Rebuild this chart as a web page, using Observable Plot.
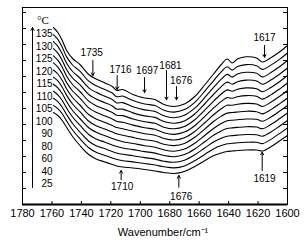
<!DOCTYPE html>
<html>
<head>
<meta charset="utf-8">
<script src="https://cdn.jsdelivr.net/npm/d3@7"></script>
<script src="https://cdn.jsdelivr.net/npm/@observablehq/plot@0.6"></script>
<style>
  html, body { margin: 0; padding: 0; background: #fff; }
  #chart svg { display: block; }
</style>
</head>
<body>
<div id="chart"></div>
<script>
// Wavenumbers (cm-1) at which the spectra were read
const wavenumbers = [1759,1756,1753,1750,1746,1741,1735,1730,1724,1719,1716,1712,1705,1697,1690,1684,1677,1670,1663,1656,1650,1645,1641,1637.5,1634,1628,1621,1617,1611,1605,1600];

// Temperatures (°C), top to bottom
const temperatures = [135,130,125,120,115,110,105,100,90,80,60,40,25];

// Absorbance (a.u., offset stacked) for each temperature
const a135 = [177,172,164,154,146,140,130,125.5,121.5,118,114,115,110,106.5,105,100,98,100.5,108,120,131,140,145.5,141.5,145.5,147.7,146.5,142.5,147,153,159];
const a130 = [169.9,165.1,157.3,147.6,139.5,133.3,123.3,118.8,114.9,111.5,107.8,108.5,103.9,100.5,99,94.3,92.4,94.9,102.2,113.7,124.2,132.6,137.8,134.4,137.9,139.9,138.8,135.1,139.6,145.6,151.5];
const a125 = [162.8,158.2,150.7,141.2,133,126.5,116.7,112.2,108.3,105,101.6,101.9,97.8,94.6,93.1,88.7,86.8,89.3,96.3,107.3,117.3,125.3,130.1,127.4,130.4,132.2,131.2,127.6,132.2,138.2,144];
const a120 = [155.8,151.3,144,134.8,126.5,119.8,110,105.5,101.8,98.5,95.4,95.4,91.6,88.6,87.1,83,81.3,83.6,90.5,101,110.5,117.9,122.4,120.3,122.8,124.4,123.5,120.3,124.8,130.8,136.5];
const a115 = [148.7,144.3,137.3,128.3,120,113,103.3,98.8,95.2,92,89.3,88.9,85.5,82.7,81.2,77.3,75.7,78,84.7,94.7,103.7,110.5,114.6,113.3,115.3,116.6,115.8,112.8,117.3,123.3,129];
const a110 = [141.6,137.4,130.7,121.9,113.5,106.3,96.7,92.2,88.6,85.5,83.1,82.3,79.4,76.7,75.2,71.7,70.1,72.4,78.8,88.3,96.8,103.1,106.9,106.2,107.7,108.9,108.2,105.4,109.9,115.9,121.5];
const a105 = [134.5,130.5,124,115.5,107,99.5,90,85.5,82,79,76.9,75.8,73.3,70.8,69.3,66,64.5,66.8,73,82,90,95.8,99.2,99.2,100.2,101.1,100.5,98,102.5,108.5,114];
const a100 = [127.4,123.6,117.3,109.1,100.5,92.8,83.3,78.8,75.4,72.5,70.7,69.3,67.1,64.8,63.3,60.3,58.9,61.1,67.2,75.7,83.2,88.4,91.4,92,92.5,93.3,92.8,90.6,95.1,101.1,106.5];
const a90  = [120.3,116.7,110.7,102.7,94,86,76.7,72.2,68.8,66,64.5,62.8,61,58.8,57.3,54.7,53.3,55.5,61.3,69.3,76.3,81,83.7,84.3,84.8,85.5,85.2,83.2,87.7,93.7,99];
const a80  = [113.3,109.7,104,96.2,87.5,79.3,70,65.5,62.3,59.5,58,56.5,54.9,52.9,51.4,49,47.8,49.9,55.5,63,69.5,73.6,76,76.6,77.1,77.8,77.5,75.7,80.2,86.2,91.5];
const a60  = [106.2,102.8,97.3,89.8,81,72.5,63.3,58.8,55.7,53,51.5,50.2,48.8,46.9,45.4,43.3,42.2,44.3,49.7,56.7,62.7,66.3,68.3,68.9,69.4,70,69.8,68.3,72.8,78.8,84];
const a40  = [99.1,95.9,90.7,83.4,74.5,65.8,56.7,52.2,49.1,46.5,45,43.8,42.6,41,39.5,37.7,36.6,38.6,43.8,50.3,55.8,58.9,60.7,61.2,61.7,62.2,62.2,60.9,65.4,71.4,76.5];
const a25  = [92,89,84,77,68,59,50,45.5,42.5,40,38.5,37.5,36.5,35,33.5,32,31,33,38,44,49,51.5,53,53.5,54,54.5,54.5,53.5,58,64,69];

// x tick labels
const xTicks = [1780,1760,1740,1720,1700,1680,1660,1640,1620,1600];
const xTitle = "Wavenumber/cm\u207B\u00B9";

// Peak annotations: label, wavenumber of arrow, arrow start/end (a.u.), label position
const peakLabels   = ["1735","1716","1697","1681","1676","1617","1710","1676","1619"];
const peakArrowWn  = [1732.2,1715.7,1697.1,1682.2,1675.4,1615.6,1713.0,1673.8,1617.2];
const peakArrowFrom= [144,129,127,134,118,159,24.7,17.3,34];
const peakArrowTo  = [129,115,112,104.7,104.7,147.3,34,29,52.3];
const peakLabelWn  = [1733.0,1713.4,1695.3,1679.5,1672.2,1615.6,1712.3,1672.2,1615.6];
const peakLabelY   = [152,135,133.3,139,124,166.7,18,8,25.7];

// Temperature label column
const tempLabelY = [171,158,146,133,121,108,96,83,71,58,46,33,21];

// inward frame ticks (a.u.)
const yTickVals = [16,32,48,64,80,96,112,128,144,160,176,192];

const seriesArr = [a135,a130,a125,a120,a115,a110,a105,a100,a90,a80,a60,a40,a25];
const rows = [];
temperatures.forEach((t, i) => {
  wavenumbers.forEach((w, j) => rows.push({t, w, a: seriesArr[i][j]}));
});
const peaks = peakLabels.map((l, i) => ({l, xw: peakArrowWn[i], y1: peakArrowFrom[i], y2: peakArrowTo[i], lx: peakLabelWn[i], ly: peakLabelY[i]}));
const tempRows = temperatures.map((t, i) => ({t, y: tempLabelY[i]}));

const chart = Plot.plot({
  width: 308,
  height: 246,
  marginLeft: 22,
  marginRight: 21,
  marginTop: 7,
  marginBottom: 42,
  style: {fontFamily: "'Liberation Sans', Arial, sans-serif", fontSize: "11px", background: "#fff", color: "#000"},
  x: {domain: [1780, 1600]},
  y: {domain: [0, 197], axis: null},
  marks: [
    Plot.frame({stroke: "#000", strokeWidth: 1}),
    Plot.ruleY([0], {stroke: "#000", strokeWidth: 2}),
    Plot.ruleY(yTickVals, {x1: 1780, x2: 1777.3, stroke: "#000", strokeWidth: 1}),
    Plot.ruleY(yTickVals, {x1: 1600, x2: 1602.7, stroke: "#000", strokeWidth: 1}),
    Plot.ruleX(xTicks, {y1: 0, y2: 3, stroke: "#000", strokeWidth: 1}),
    Plot.axisX({ticks: xTicks, tickFormat: d => String(d), tickSize: 0, tickPadding: 5, fontSize: 11, label: null, fill: "#000"}),
    Plot.line(rows, {x: "w", y: "a", z: "t", curve: "catmull-rom", stroke: "#000", strokeWidth: 1.1}),
    Plot.arrow(peaks, {x1: "xw", x2: "xw", y1: "y1", y2: "y2", stroke: "#000", strokeWidth: 1, headLength: 4.5}),
    Plot.text(peaks, {x: "lx", y: "ly", text: "l", fontSize: 10, fill: "#000"}),
    Plot.arrow([{x: 1773.2}], {x1: "x", x2: "x", y1: () => 17, y2: () => 177, stroke: "#000", strokeWidth: 1, headLength: 5}),
    Plot.text(tempRows, {x: 1759.6, y: "y", text: d => String(d.t), textAnchor: "end", fontSize: 10, fill: "#000"}),
    Plot.text(["°C"], {x: 1770, y: 184, text: d => d, textAnchor: "start", fontSize: 11, fontFamily: "'Liberation Serif', 'Times New Roman', serif", fill: "#000"}),
    Plot.text([xTitle], {frameAnchor: "bottom", dy: 31, dx: 8, text: d => d, fontSize: 11, fill: "#000"})
  ]
});
document.getElementById("chart").appendChild(chart);
</script>
</body>
</html>
